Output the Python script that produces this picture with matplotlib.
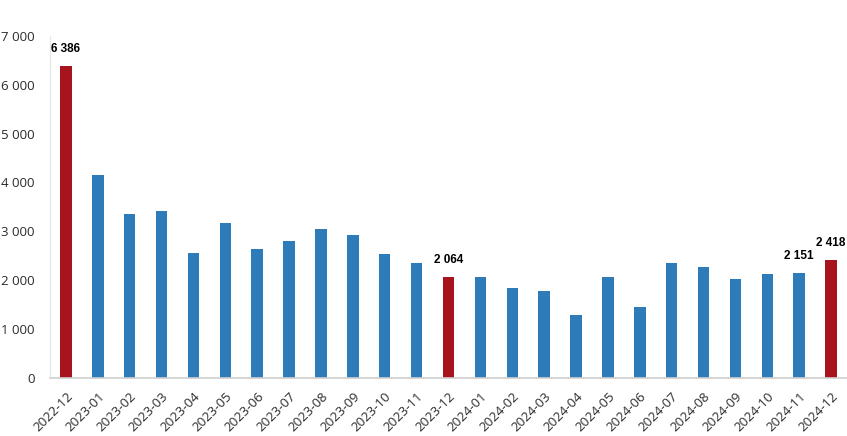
import matplotlib.pyplot as plt
import matplotlib.transforms as mtransforms
from matplotlib.ticker import FuncFormatter

# --- Data ---
MONTHS = [
    "2022-12", "2023-01", "2023-02", "2023-03", "2023-04", "2023-05", "2023-06",
    "2023-07", "2023-08", "2023-09", "2023-10", "2023-11", "2023-12",
    "2024-01", "2024-02", "2024-03", "2024-04", "2024-05", "2024-06",
    "2024-07", "2024-08", "2024-09", "2024-10", "2024-11", "2024-12",
]
VALUES = [
    6386, 4160, 3350, 3415, 2550, 3160, 2630,
    2800, 3055, 2930, 2540, 2340, 2064,
    2060, 1840, 1780, 1280, 2065, 1440,
    2350, 2260, 2020, 2120, 2151, 2418,
]
HIGHLIGHT = ["2022-12", "2023-12", "2024-12"]
LABELLED = ["2022-12", "2023-12", "2024-11", "2024-12"]

COLOR_BLUE = '#2E7BBA'
COLOR_RED = '#A8141D'
TEXT_COLOR = '#2B2B2B'


def space_thousands(v, pos=None):
    return f"{int(v):,}".replace(",", " ")


fig = plt.figure(figsize=(8.47, 4.36), dpi=100)
ax = fig.add_axes([50 / 847, 0.134, 1 - 50 / 847, 0.917 - 0.134])

x = list(range(len(MONTHS)))
colors = [COLOR_RED if m in HIGHLIGHT else COLOR_BLUE for m in MONTHS]
ax.bar(x, VALUES, width=0.36, color=colors, zorder=2)

# value labels on the highlighted months
for i, (m, v) in enumerate(zip(MONTHS, VALUES)):
    if m in LABELLED:
        ax.annotate(space_thousands(v), (i, v), xytext=(0, 12),
                    textcoords='offset points', ha='center', va='center',
                    fontsize=8.5, fontweight='bold', color='black',
                    family='Liberation Sans')

ax.set_xlim(-0.5, len(MONTHS) - 0.5)
ax.set_ylim(0, 7000)
ax.set_yticks(range(0, 7001, 1000))
ax.yaxis.set_major_formatter(FuncFormatter(space_thousands))

ax.set_xticks(x)
ax.set_xticklabels(MONTHS, rotation=45, ha='right', rotation_mode='anchor',
                   fontsize=9.5, color=TEXT_COLOR, family='Open Sans')
offset = mtransforms.ScaledTranslation(10 / 100, 0, fig.dpi_scale_trans)
for lbl in ax.get_xticklabels():
    lbl.set_transform(lbl.get_transform() + offset)
for lbl in ax.get_yticklabels():
    lbl.set_fontsize(9.5)
    lbl.set_color(TEXT_COLOR)
    lbl.set_family('Open Sans')

ax.tick_params(axis='both', length=0)
ax.tick_params(axis='y', pad=11)
ax.tick_params(axis='x', pad=9)

for side in ['top', 'right']:
    ax.spines[side].set_visible(False)
ax.spines['left'].set_color('#E6E6E6')
ax.spines['bottom'].set_color('#D0D0D0')
ax.spines['bottom'].set_linewidth(1.2)

fig.savefig("out.png", dpi=100)
plt.close(fig)
